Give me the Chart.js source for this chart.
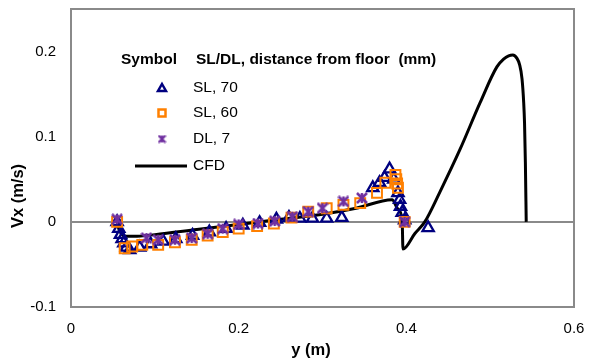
<!DOCTYPE html>
<html><head><meta charset="utf-8">
<script src="https://cdn.jsdelivr.net/npm/chart.js@4.4.0/dist/chart.umd.min.js"></script>
<style>html,body{margin:0;padding:0;background:#fff;}#wrap{width:593px;height:363px;position:relative;}</style>
</head><body><div id="wrap"><canvas id="c" width="593" height="363"></canvas></div>
<script>
// ---- data ----
const xTickValues = [0, 0.2, 0.4, 0.6];
const xTickLabels = ['0', '0.2', '0.4', '0.6'];
const yTickValues = [-0.1, 0, 0.1, 0.2];
const yTickLabels = ['-0.1', '0', '0.1', '0.2'];
const xTitle = 'y (m)';
const yTitle = 'Vx (m/s)';
const legendHeader1 = 'Symbol';
const legendHeader2 = 'SL/DL, distance from floor  (mm)';
const seriesNames = ['SL, 70', 'SL, 60', 'DL, 7', 'CFD'];

const sl70X = [0.055, 0.057, 0.059, 0.061, 0.063, 0.066, 0.070, 0.082, 0.095, 0.110, 0.125, 0.145, 0.165, 0.185, 0.205, 0.225, 0.245, 0.260, 0.273, 0.288, 0.305, 0.323, 0.360, 0.368, 0.374, 0.380, 0.385, 0.390, 0.392, 0.393, 0.395, 0.398, 0.426];
const sl70Y = [0.000, -0.008, -0.015, -0.020, -0.025, -0.030, -0.033, -0.030, -0.026, -0.023, -0.020, -0.016, -0.012, -0.008, -0.004, -0.001, 0.003, 0.005, 0.004, 0.004, 0.004, 0.005, 0.040, 0.046, 0.052, 0.062, 0.050, 0.034, 0.026, 0.018, 0.011, 0.002, -0.007];

const sl60X = [0.055, 0.064, 0.073, 0.085, 0.104, 0.124, 0.144, 0.163, 0.181, 0.200, 0.222, 0.242, 0.263, 0.283, 0.305, 0.325, 0.345, 0.365, 0.375, 0.387, 0.388, 0.389, 0.390, 0.398];
const sl60Y = [0.000, -0.031, -0.029, -0.027, -0.027, -0.024, -0.021, -0.016, -0.012, -0.008, -0.005, -0.002, 0.005, 0.012, 0.016, 0.020, 0.022, 0.034, 0.046, 0.055, 0.050, 0.045, 0.040, 0.000];

const dl7X = [0.055, 0.090, 0.104, 0.124, 0.144, 0.163, 0.181, 0.200, 0.223, 0.243, 0.264, 0.283, 0.300, 0.325, 0.347, 0.398];
const dl7Y = [0.003, -0.019, -0.021, -0.021, -0.019, -0.014, -0.008, -0.003, -0.002, 0.001, 0.006, 0.012, 0.016, 0.024, 0.028, 0.000];

const cfdX = [0.055, 0.057, 0.060, 0.065, 0.075, 0.100, 0.150, 0.200, 0.250, 0.300, 0.340, 0.383, 0.390, 0.395, 0.396, 0.410, 0.422, 0.440, 0.464, 0.488, 0.508, 0.516, 0.522, 0.527, 0.532, 0.535, 0.538, 0.540, 0.541, 0.542, 0.543];
const cfdY = [0.000, -0.008, -0.014, -0.017, -0.017, -0.015, -0.009, -0.003, 0.003, 0.009, 0.016, 0.026, 0.015, 0.002, -0.032, -0.014, 0.000, 0.035, 0.085, 0.140, 0.182, 0.191, 0.195, 0.196, 0.192, 0.185, 0.168, 0.140, 0.116, 0.070, 0.000];

// ---- styles ----
const FONT = '"Liberation Sans", Arial, sans-serif';
const cTri = '#000080', cSq = '#FF8000', cX = '#7030A0', cLine = '#000000', cFrame = '#8a8a8a';

function starMarker(color, size, lw) {
  const c = document.createElement('canvas');
  c.width = size; c.height = size;
  const g = c.getContext('2d');
  g.strokeStyle = color; g.lineWidth = lw; g.lineCap = 'butt';
  const p = 1, q = size - 1;
  g.beginPath();
  g.moveTo(p, p); g.lineTo(q, q);
  g.moveTo(q, p); g.lineTo(p, q);
  g.moveTo(size / 2, p); g.lineTo(size / 2, q);
  g.stroke();
  return c;
}
const starBig = starMarker(cX, 12, 2.5);
const starSmall = starMarker(cX, 9, 2.2);

const pts = (xs, ys) => xs.map((x, i) => ({ x: x, y: ys[i] }));

const framePlugin = {
  id: 'frame',
  beforeDatasetsDraw(chart) {
    const { ctx, chartArea: a, scales } = chart;
    ctx.save();
    ctx.strokeStyle = cFrame; ctx.lineWidth = 2;
    const y0 = Math.round(scales.y.getPixelForValue(0));
    ctx.beginPath(); ctx.moveTo(a.left, y0); ctx.lineTo(a.right, y0); ctx.stroke();
    ctx.strokeRect(a.left, a.top, a.right - a.left, a.bottom - a.top);
    ctx.restore();
  },
  afterDraw(chart) {
    const { ctx } = chart;
    ctx.save();
    ctx.fillStyle = '#000';
    ctx.textBaseline = 'middle';
    // axis titles
    ctx.font = 'bold 16.5px ' + FONT;
    ctx.textAlign = 'center';
    ctx.fillText(xTitle, 311, 350);
    ctx.save(); ctx.translate(18, 196); ctx.rotate(-Math.PI / 2); ctx.fillText(yTitle, 0, 0); ctx.restore();
    // legend
    ctx.textAlign = 'left';
    ctx.font = 'bold 15.5px ' + FONT;
    ctx.fillText(legendHeader1, 121, 60);
    ctx.fillText(legendHeader2, 196, 60);
    ctx.font = '15.5px ' + FONT;
    const rows = [88, 113, 139, 166];
    rows.forEach((ry, i) => ctx.fillText(seriesNames[i], 193, ry));
    // markers
    ctx.lineWidth = 2.5;
    ctx.strokeStyle = cTri;
    ctx.beginPath(); ctx.moveTo(162, rows[0] - 4); ctx.lineTo(166, rows[0] + 3); ctx.lineTo(158, rows[0] + 3); ctx.closePath(); ctx.stroke();
    ctx.strokeStyle = cSq;
    ctx.strokeRect(158.5, rows[1] - 3.5, 7, 7);
    ctx.drawImage(starSmall, 157.5, rows[2] - 4.5);
    ctx.strokeStyle = cLine; ctx.lineWidth = 3;
    ctx.beginPath(); ctx.moveTo(135, rows[3]); ctx.lineTo(187, rows[3]); ctx.stroke();
    ctx.restore();
  }
};

new Chart(document.getElementById('c'), {
  type: 'scatter',
  data: {
    datasets: [
      { label: seriesNames[2], data: pts(dl7X, dl7Y), pointStyle: starBig, pointRadius: 6, showLine: false },
      { label: seriesNames[1], data: pts(sl60X, sl60Y), pointStyle: 'rect', pointRadius: 7, pointBorderWidth: 2, pointBorderColor: cSq, pointBackgroundColor: 'rgba(0,0,0,0)', showLine: false },
      { label: seriesNames[0], data: pts(sl70X, sl70Y), pointStyle: 'triangle', pointRadius: 6.5, pointBorderWidth: 2.3, pointBorderColor: cTri, pointBackgroundColor: 'rgba(0,0,0,0)', showLine: false },
      { label: seriesNames[3], data: pts(cfdX, cfdY), showLine: true, borderColor: cLine, borderWidth: 3, pointRadius: 0, cubicInterpolationMode: 'monotone', fill: false }
    ]
  },
  options: {
    responsive: false, animation: false, devicePixelRatio: 1,
    layout: { padding: { left: 0, right: 19, top: 9, bottom: 0 } },
    plugins: { legend: { display: false }, tooltip: { enabled: false } },
    scales: {
      x: {
        type: 'linear', min: 0, max: 0.6,
        afterBuildTicks: a => { a.ticks = xTickValues.map(v => ({ value: v })); },
        afterFit: a => { a.height = 56; a.paddingLeft = 0; a.paddingRight = 0; },
        grid: { display: false, drawTicks: false },
        border: { display: false },
        ticks: { padding: 13, color: '#000', font: { family: FONT, size: 15 }, maxRotation: 0,
          callback: v => { const i = xTickValues.findIndex(t => Math.abs(t - v) < 1e-9); return i >= 0 ? xTickLabels[i] : ''; } }
      },
      y: {
        type: 'linear', min: -0.1, max: 0.25,
        afterBuildTicks: a => { a.ticks = yTickValues.map(v => ({ value: v })); },
        afterFit: a => { a.width = 71; a.paddingTop = 0; a.paddingBottom = 0; },
        grid: { display: false, drawTicks: false },
        border: { display: false },
        ticks: { padding: 15, color: '#000', font: { family: FONT, size: 15 },
          callback: v => { const i = yTickValues.findIndex(t => Math.abs(t - v) < 1e-9); return i >= 0 ? yTickLabels[i] : ''; } }
      }
    }
  },
  plugins: [framePlugin]
});
</script></body></html>
